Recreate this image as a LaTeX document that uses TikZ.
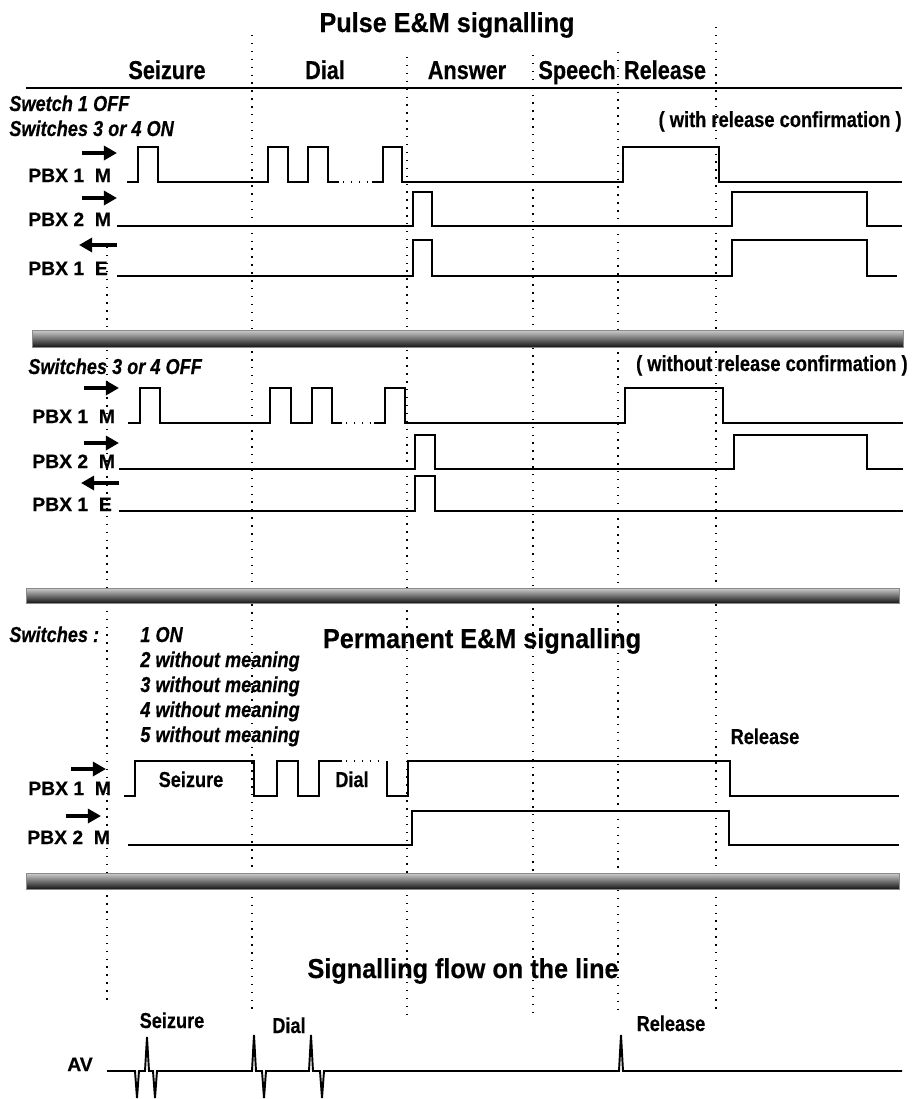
\documentclass[tikz,border=0pt]{standalone}
\usepackage{fontspec}
\setmainfont[FakeBold=0.4]{Liberation Sans}
\newfontfamily\narrowsans[FakeStretch=0.84, FakeBold=0.4]{Liberation Sans}
\newfontfamily\titlesans[FakeStretch=0.92, FakeBold=0.4]{Liberation Sans}
\usetikzlibrary{arrows.meta, positioning}
\definecolor{barlight}{HTML}{CFCFCF}
\definecolor{bardark}{HTML}{161616}
\definecolor{baredge}{HTML}{8A8A8A}

\begin{document}
\begin{tikzpicture}[x=0.02cm, y=-0.02cm,
    title/.style={font=\titlesans\fontsize{15.6}{18}\selectfont\bfseries, anchor=base, inner sep=0pt},
    phase/.style={font=\narrowsans\fontsize{14.7}{17}\selectfont\bfseries, anchor=base, inner sep=0pt},
    event/.style={font=\narrowsans\fontsize{12.3}{14}\selectfont\bfseries, anchor=base, inner sep=0pt},
    note/.style={font=\narrowsans\fontsize{12.3}{14}\selectfont\bfseries\itshape, anchor=base west, inner sep=0pt},
    remark/.style={font=\narrowsans\fontsize{12.4}{14}\selectfont\bfseries, anchor=base east, inner sep=0pt},
    port/.style={font=\fontsize{11}{13}\selectfont\bfseries, anchor=base west, inner sep=0pt},
    wave/.style={line width=1.1pt},
    tick/.style={line width=0.8pt, dash pattern=on 0.8pt off 3.7pt},
    dir/.style={line width=2.1pt, -{Triangle[length=7.5pt, width=8pt]}},
    bar/.style={top color=barlight, bottom color=bardark, draw=baredge, line width=0.5pt}]
    \useasboundingbox (0,0) rectangle (912,1099);
    \fill[white] (0,0) rectangle (912,1099);
    \foreach \x/\ya/\yb in {107/247/1003, 252/35/1012, 407/57/1017,
                            533/55/1015, 618/52/1012, 716/27/1012}{%
      \draw[tick] (\x,\ya) -- (\x,\yb);}
    \node[title] (pulse) at (447,32) {Pulse E\&M signalling};
    \foreach \name/\x/\txt in {seize/167/Seizure, dial/325/Dial, answer/467/Answer,
                               speech/577/Speech, release/665/Release}{%
      \node[phase] (\name) at (\x,79) {\txt};}
    \draw[line width=1.6pt] (26,88) -- (902,88);
    \node[note] (sw1) at (9,111) {Swetch 1 OFF};
    \node[note] (sw34) at (9,136) {Switches 3 or 4 ON};
    \node[remark] (withconf) at (902,127) {( with release confirmation )};
    \node[port] (am) at (28,182) {PBX 1\ \ M};
    \node[port] (bm) at (28,226) {PBX 2\ \ M};
    \node[port] (ae) at (28,275) {PBX 1\ \ E};
    \draw[dir] (82,153) -- (117,153);
    \draw[dir] (82,198) -- (117,198);
    \draw[dir] (117,245) -- (79,245);
    \draw[wave] (127,182) -- (138,182) -- (138,147) -- (158,147) -- (158,182)
      -- (268,182) -- (268,147) -- (288,147) -- (288,182) -- (308,182) -- (308,147)
      -- (328,147) -- (328,182) -- (339,182);
    \draw[tick] (343,182) -- (369,182);
    \draw[wave] (372,182) -- (383,182) -- (383,147) -- (402,147) -- (402,182)
      -- (623,182) -- (623,147) -- (719,147) -- (719,182) -- (902,182);
    \draw[wave] (117,226) -- (413,226) -- (413,192) -- (432,192) -- (432,226)
      -- (732,226) -- (732,192) -- (867,192) -- (867,226) -- (902,226);
    \draw[wave] (117,276) -- (413,276) -- (413,240) -- (432,240) -- (432,276)
      -- (732,276) -- (732,240) -- (867,240) -- (867,276) -- (897,276);
    \draw[bar] (32,330) rectangle (903,347);
    \node[note] (sw34off) at (28,374) {Switches 3 or 4 OFF};
    \node[remark] (noconf) at (908,371) {( without release confirmation )};
    \node[port] (am2) at (32,423) {PBX 1\ \ M};
    \node[port] (bm2) at (32,468) {PBX 2\ \ M};
    \node[port] (ae2) at (32,511) {PBX 1\ \ E};
    \draw[dir] (84,388) -- (119,388);
    \draw[dir] (84,443) -- (119,443);
    \draw[dir] (119,483) -- (81,483);
    \draw[wave] (128,423) -- (140,423) -- (140,388) -- (160,388) -- (160,423)
      -- (270,423) -- (270,388) -- (291,388) -- (291,423) -- (312,423) -- (312,388)
      -- (332,388) -- (332,423) -- (342,423);
    \draw[tick] (346,423) -- (371,423);
    \draw[wave] (374,423) -- (385,423) -- (385,388) -- (405,388) -- (405,423)
      -- (625,423) -- (625,388) -- (723,388) -- (723,423) -- (903,423);
    \draw[wave] (119,469) -- (415,469) -- (415,435) -- (435,435) -- (435,469)
      -- (734,469) -- (734,435) -- (867,435) -- (867,469) -- (903,469);
    \draw[wave] (119,511) -- (415,511) -- (415,476) -- (435,476) -- (435,511)
      -- (903,511);
    \draw[bar] (26,588) rectangle (899,603);
    \node[note] (switches) at (9,642) {Switches :};
    \foreach \y/\txt in {642/1 ON, 667/2 without meaning, 692/3 without meaning,
                         717/4 without meaning, 742/5 without meaning}{%
      \node[note] (sw\y) at (140,\y) {\txt};}
    \node[title] (permanent) at (482,648) {Permanent E\&M signalling};
    \node[event] (pseize) at (191,787) {Seizure};
    \node[event] (pdial) at (352,787) {Dial};
    \node[event] (prelease) at (765,744) {Release};
    \node[port] (am3) at (28,795) {PBX 1\ \ M};
    \node[port] (bm3) at (27,844) {PBX 2\ \ M};
    \draw[dir] (71,769) -- (106,769);
    \draw[dir] (66,816) -- (101,816);
    \draw[wave] (124,796) -- (135,796) -- (135,761) -- (254,761) -- (254,796)
      -- (277,796) -- (277,761) -- (298,761) -- (298,796) -- (319,796) -- (319,761)
      -- (342,761);
    \draw[tick] (346,761) -- (384,761);
    \draw[wave] (387,761) -- (387,796) -- (408,796) -- (408,761) -- (730,761)
      -- (730,796) -- (899,796);
    \draw[wave] (128,845) -- (412,845) -- (412,811) -- (729,811) -- (729,845)
      -- (899,845);
    \draw[bar] (26,873) rectangle (899,889);
    \node[title] (flow) at (463,978) {Signalling flow on the line};
    \node[event] (lseize) at (172,1028) {Seizure};
    \node[event] (ldial) at (289,1033) {Dial};
    \node[event] (lrelease) at (671,1031) {Release};
    \node[port, anchor=base] (av) at (80,1071) {AV};
    \draw[wave] (107,1071) -- (135,1071) -- (137,1098) -- (139,1071) -- (145,1071)
      -- (147,1037) -- (149,1071) -- (153,1071) -- (155,1098) -- (157,1071)
      -- (252,1071) -- (254,1035) -- (256,1071) -- (262,1071) -- (264,1098)
      -- (266,1071) -- (309,1071) -- (311,1035) -- (313,1071) -- (320,1071)
      -- (322,1098) -- (324,1071) -- (619,1071) -- (621,1035) -- (623,1071)
      -- (902,1071);
\end{tikzpicture}
\end{document}
